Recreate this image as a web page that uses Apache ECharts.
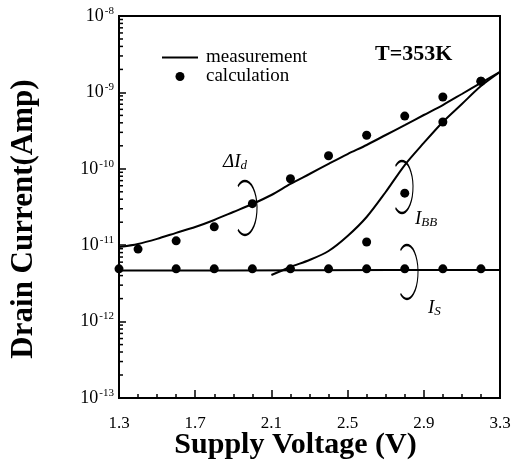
<!DOCTYPE html>
<html>
<head>
<meta charset="utf-8">
<script src="https://cdn.jsdelivr.net/npm/echarts@6/dist/echarts.min.js"></script>
<style>
  html, body { margin: 0; padding: 0; background: #fff; }
  #chart { width: 514px; height: 476px; }
</style>
</head>
<body>
<div id="chart"></div>
<script>
// measured curves (solid lines)
const measX = [1.3, 1.4, 1.5, 1.6, 1.7, 1.8, 1.9, 2.0, 2.1, 2.2, 2.3, 2.4, 2.5, 2.6, 2.7, 2.8, 2.9, 3.0, 3.1, 3.2, 3.3];
const deltaIdMeas = [9.47e-12, 1.04e-11, 1.21e-11, 1.45e-11, 1.73e-11, 2.14e-11, 2.72e-11, 3.46e-11, 4.54e-11, 6.33e-11, 8.55e-11,
  1.16e-10, 1.56e-10, 2.05e-10, 2.77e-10, 3.74e-10, 5.06e-10, 6.84e-10, 9.53e-10, 1.33e-9, 1.85e-9];
const ibbMeasX = [2.1, 2.2, 2.3, 2.4, 2.5, 2.6, 2.7, 2.8, 2.9, 3.0, 3.1, 3.2, 3.3];
const ibbMeas = [4.07e-12, 5.19e-12, 6.4e-12, 8.4e-12, 1.32e-11, 2.34e-11, 4.97e-11, 1.12e-10, 2.18e-10, 4.1e-10, 7.05e-10, 1.21e-9, 1.85e-9];
const isMeasX = [1.3, 2.3, 3.3];
const isMeas = [4.65e-12, 4.7e-12, 4.75e-12];

// calculated points (dots)
const deltaIdCalcX = [1.4, 1.6, 1.8, 2.0, 2.2, 2.4, 2.6, 2.8, 3.0, 3.2];
const deltaIdCalc = [8.9e-12, 1.14e-11, 1.74e-11, 3.5e-11, 7.4e-11, 1.48e-10, 2.75e-10, 4.9e-10, 8.7e-10, 1.4e-9];
const ibbCalcX = [2.6, 2.8, 3.0, 3.2];
const ibbCalc = [1.1e-11, 4.8e-11, 4.1e-10, 1.4e-9];
const isCalcX = [1.3, 1.6, 1.8, 2.0, 2.2, 2.4, 2.6, 2.8, 3.0, 3.2];
const isCalc = [4.9e-12, 4.9e-12, 4.9e-12, 4.9e-12, 4.9e-12, 4.9e-12, 4.9e-12, 4.9e-12, 4.9e-12, 4.9e-12];

// log minor tick values (2..9 in each decade) for the left axis
const minorTicksY = [];
for (let e = -13; e < -8; e++) {
  for (let k = 2; k <= 9; k++) minorTicksY.push([1.3, k * Math.pow(10, e)]);
}

const serif = "'Liberation Serif', 'Times New Roman', serif";

function pairs(xs, ys) {
  return xs.map((x, i) => [x, ys[i]]);
}

function lineSeries(xs, ys) {
  return {
    name: "measurement",
    type: "line",
    data: pairs(xs, ys),
    symbol: "none",
    smooth: 0.3,
    lineStyle: { color: "#000", width: 2 },
    itemStyle: { color: "#000" },
    z: 3,
  };
}

function dotSeries(xs, ys) {
  return {
    name: "calculation",
    type: "scatter",
    data: pairs(xs, ys),
    symbol: "circle",
    symbolSize: 9,
    itemStyle: { color: "#000", opacity: 1 },
    z: 4,
  };
}

function bracket(cx, cy, rx, ry) {
  return {
    type: "arc",
    x: cx,
    y: cy,
    scaleX: rx / ry,
    shape: { cx: 0, cy: 0, r: ry, startAngle: -2.2, endAngle: 2.2, clockwise: true },
    style: { stroke: "#000", lineWidth: 2.5, fill: null, strokeNoScale: true },
  };
}

function subLabel(x, y, main, sub) {
  return {
    type: "text",
    x: x,
    y: y,
    style: {
      text: "{m|" + main + "}{s|" + sub + "}",
      verticalAlign: "middle",
      rich: {
        m: { fontFamily: serif, fontStyle: "italic", fontSize: 19, color: "#000" },
        s: { fontFamily: serif, fontStyle: "italic", fontSize: 13, color: "#000", padding: [8, 0, 0, 0] },
      },
    },
  };
}

const chart = echarts.init(document.getElementById("chart"));

const options = {
  animation: false,
  grid: {
    left: 117,
    right: 14,
    top: 16,
    bottom: 78,
    show: true,
    borderColor: "#000",
    borderWidth: 2,
  },
  legend: {
    data: [
      { name: "measurement", icon: "path://M0,0 L36,0 L36,2 L0,2 Z" },
      { name: "calculation", icon: "circle" },
    ],
    orient: "vertical",
    left: 157,
    top: 43,
    itemWidth: 36,
    itemHeight: 9,
    itemGap: 0,
    textStyle: { fontFamily: serif, fontSize: 19, color: "#000", padding: [0, 0, 0, 3] },
  },
  xAxis: {
    type: "value",
    min: 1.3,
    max: 3.3,
    interval: 0.4,
    name: "Supply Voltage (V)",
    nameLocation: "middle",
    nameGap: 32,
    nameMoveOverlap: false,
    nameTextStyle: { fontFamily: serif, fontSize: 30, fontWeight: "bold", color: "#000", padding: [0, 28, 0, 0] },
    axisLine: { lineStyle: { color: "#000", width: 2 } },
    axisTick: { inside: true, length: 8, lineStyle: { color: "#000", width: 1.5 } },
    minorTick: { show: true, splitNumber: 4, length: 4, lineStyle: { color: "#000", width: 1.5 } },
    splitLine: { show: false },
    axisLabel: {
      margin: 17,
      fontFamily: serif,
      fontSize: 17,
      color: "#000",
      formatter: (v) => v.toFixed(1),
    },
  },
  yAxis: {
    type: "log",
    logBase: 10,
    min: 1e-13,
    max: 1e-8,
    name: "Drain Current(Amp)",
    nameLocation: "middle",
    nameGap: 80,
    nameMoveOverlap: false,
    nameTextStyle: { fontFamily: serif, fontSize: 31, fontWeight: "bold", color: "#000", padding: [0, 24, 0, 0] },
    axisLine: { lineStyle: { color: "#000", width: 2 } },
    axisTick: { show: true, inside: true, length: 7, lineStyle: { color: "#000", width: 1.5 } },
    splitLine: { show: false },
    axisLabel: {
      margin: 5,
      formatter: (v) => "{b|10}{s|" + Math.round(Math.log10(v)) + "}",
      rich: {
        b: { fontFamily: serif, fontSize: 18, color: "#000" },
        s: { fontFamily: serif, fontSize: 11, color: "#000", padding: [0, 0, 10, 1] },
      },
    },
  },
  series: [
    lineSeries(measX, deltaIdMeas),
    lineSeries(ibbMeasX, ibbMeas),
    lineSeries(isMeasX, isMeas),
    dotSeries(deltaIdCalcX, deltaIdCalc),
    dotSeries(ibbCalcX, ibbCalc),
    dotSeries(isCalcX, isCalc),
    {
      // log-spaced minor ticks on the left axis
      type: "custom",
      silent: true,
      clip: false,
      data: minorTicksY,
      encode: { x: 0, y: 1 },
      renderItem: (params, api) => {
        const p = api.coord([api.value(0), api.value(1)]);
        return {
          type: "line",
          shape: { x1: p[0], y1: p[1], x2: p[0] + 4, y2: p[1] },
          style: { stroke: "#000", lineWidth: 1.5 },
        };
      },
      z: 5,
    },
  ],
  graphic: [
    {
      type: "text",
      left: 375,
      top: 43,
      style: { text: "T=353K", fontFamily: serif, fontSize: 22, fontWeight: "bold", fill: "#000" },
    },
    bracket(245, 208, 12, 27),
    bracket(402, 187, 11, 26),
    bracket(407, 272, 11, 27),
    subLabel(223, 162, "\u0394I", "d"),
    subLabel(415, 219, "I", "BB"),
    subLabel(428, 308, "I", "S"),
  ],
};

chart.setOption(options);
</script>
</body>
</html>
